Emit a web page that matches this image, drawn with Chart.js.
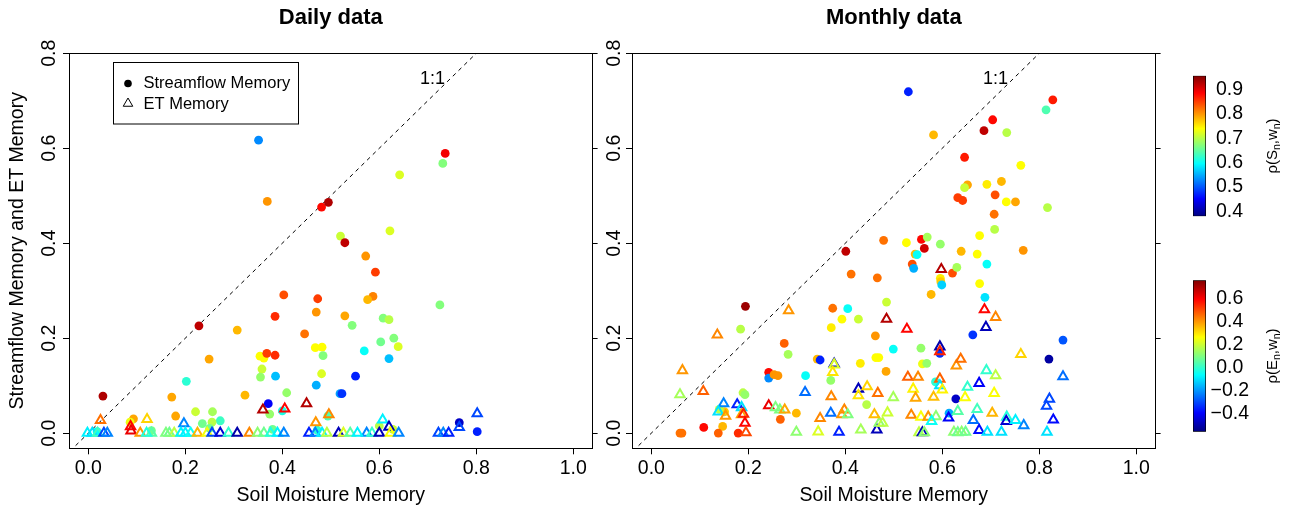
<!DOCTYPE html>
<html>
<head>
<meta charset="utf-8">
<script src="https://cdn.jsdelivr.net/npm/chart.js@4.4.0/dist/chart.umd.min.js"></script>
<style>
  html, body { margin: 0; padding: 0; background: #fff; }
  #wrap { position: relative; width: 1295px; height: 514px; overflow: hidden; }
  canvas { position: absolute; }
</style>
</head>
<body>
<div id="wrap">
  <canvas id="daily" width="600" height="514" style="left:0;top:0"></canvas>
  <canvas id="monthly" width="563" height="514" style="left:600px;top:0"></canvas>
  <canvas id="cbS" width="102" height="184" style="left:1193px;top:54px"></canvas>
  <canvas id="cbE" width="102" height="184" style="left:1193px;top:264px"></canvas>
</div>
<script>
// [soil moisture memory, streamflow memory, rho(S,w)]
const dailyStreamflow = [
  [0.351,0.617,0.53],[0.369,0.488,0.80],[0.481,0.476,0.88],[0.495,0.486,0.93],
  [0.736,0.589,0.89],[0.731,0.568,0.67],[0.642,0.544,0.72],[0.622,0.426,0.72],
  [0.520,0.415,0.71],[0.529,0.401,0.92],[0.572,0.373,0.80],[0.592,0.339,0.85],
  [0.403,0.291,0.84],[0.473,0.283,0.85],[0.587,0.288,0.81],[0.576,0.281,0.78],
  [0.470,0.255,0.80],[0.385,0.246,0.86],[0.529,0.247,0.79],[0.228,0.226,0.92],
  [0.307,0.217,0.78],[0.446,0.209,0.82],[0.544,0.227,0.67],[0.608,0.242,0.67],
  [0.620,0.239,0.70],[0.630,0.200,0.67],[0.603,0.192,0.66],[0.639,0.182,0.72],
  [0.725,0.270,0.67],[0.249,0.156,0.79],[0.354,0.162,0.74],[0.362,0.158,0.74],
  [0.368,0.168,0.85],[0.385,0.164,0.86],[0.468,0.180,0.74],[0.482,0.181,0.74],
  [0.484,0.163,0.67],[0.569,0.173,0.60],[0.620,0.157,0.56],[0.358,0.135,0.71],
  [0.355,0.118,0.68],[0.386,0.120,0.56],[0.481,0.125,0.72],[0.551,0.120,0.47],
  [0.202,0.109,0.62],[0.470,0.101,0.55],[0.409,0.085,0.68],[0.519,0.083,0.54],
  [0.523,0.083,0.48],[0.030,0.078,0.93],[0.172,0.076,0.79],[0.323,0.080,0.78],
  [0.371,0.062,0.45],[0.221,0.045,0.71],[0.256,0.045,0.69],[0.180,0.036,0.79],
  [0.374,0.040,0.68],[0.093,0.030,0.79],[0.765,0.022,0.42],[0.802,0.003,0.47],
  [0.272,0.026,0.63],[0.255,0.023,0.70],[0.086,0.023,0.73],[0.400,0.047,0.61],
  [0.494,0.036,0.64],[0.600,0.015,0.70],[0.018,0.003,0.60],[0.130,0.005,0.66],
  [0.235,0.020,0.66],[0.250,0.010,0.66],[0.380,0.008,0.66],[0.472,0.006,0.62],
  [0.628,0.008,0.71]
];

// [soil moisture memory, ET memory, rho(E,w)]
const dailyET = [
  [0.360,0.049,0.69],[0.405,0.051,0.59],[0.450,0.062,0.69],[0.025,0.027,0.45],
  [0.121,0.029,0.32],[0.197,0.020,-0.22],[0.469,0.022,0.40],[0.496,0.039,0.42],
  [0.607,0.028,-0.08],[0.802,0.041,-0.30],[0.765,0.012,-0.30],[0.620,0.013,-0.48],
  [0.087,0.014,0.59],[0.088,0.005,0.62],[-0.002,0.000,-0.08],[0.008,0.000,-0.10],
  [0.019,0.000,0.02],[0.032,0.000,-0.30],[0.039,0.000,-0.22],[0.107,0.000,0.40],
  [0.130,0.000,0.05],[0.120,0.000,-0.02],[0.167,0.000,0.08],[0.177,0.000,0.18],
  [0.191,0.000,-0.08],[0.200,0.000,-0.08],[0.211,0.000,-0.05],[0.225,0.000,0.36],
  [0.245,0.000,0.25],[0.255,0.000,-0.30],[0.272,0.000,-0.45],[0.289,0.000,0.00],
  [0.307,0.000,-0.50],[0.332,0.000,0.42],[0.349,0.000,0.12],[0.362,0.000,0.08],
  [0.376,0.000,-0.02],[0.390,0.000,-0.08],[0.403,0.000,-0.22],[0.455,0.000,-0.35],
  [0.468,0.000,-0.22],[0.482,0.000,-0.08],[0.492,0.000,0.18],[0.516,0.000,-0.48],
  [0.526,0.000,0.22],[0.574,0.000,-0.22],[0.585,0.000,0.00],[0.600,0.000,-0.48],
  [0.623,0.000,0.26],[0.640,0.000,-0.22],[0.722,0.000,-0.30],[0.732,0.000,-0.22],
  [0.743,0.000,-0.35],[0.160,0.000,0.10],[0.540,0.000,0.05],[0.555,0.000,-0.08]
];

const monthlyStreamflow = [
  [0.530,0.719,0.47],[0.828,0.702,0.87],[0.814,0.681,0.64],[0.704,0.660,0.88],
  [0.686,0.637,0.92],[0.733,0.633,0.70],[0.582,0.628,0.78],[0.646,0.581,0.87],
  [0.762,0.564,0.74],[0.722,0.530,0.78],[0.692,0.524,0.75],[0.652,0.523,0.79],
  [0.646,0.517,0.71],[0.632,0.496,0.85],[0.642,0.490,0.85],[0.709,0.502,0.84],
  [0.732,0.487,0.74],[0.751,0.487,0.79],[0.817,0.475,0.70],[0.707,0.461,0.82],
  [0.708,0.429,0.70],[0.677,0.416,0.74],[0.479,0.406,0.82],[0.526,0.401,0.74],
  [0.557,0.408,0.88],[0.569,0.413,0.69],[0.596,0.398,0.68],[0.563,0.389,0.91],
  [0.401,0.383,0.92],[0.639,0.383,0.78],[0.672,0.377,0.74],[0.767,0.385,0.80],
  [0.544,0.377,0.78],[0.548,0.376,0.60],[0.692,0.356,0.60],[0.538,0.356,0.84],
  [0.541,0.347,0.55],[0.621,0.337,0.84],[0.630,0.349,0.69],[0.412,0.335,0.82],
  [0.466,0.327,0.82],[0.596,0.326,0.75],[0.597,0.319,0.77],[0.677,0.315,0.74],
  [0.599,0.312,0.57],[0.577,0.292,0.78],[0.688,0.286,0.58],[0.194,0.267,0.94],
  [0.374,0.263,0.82],[0.405,0.262,0.60],[0.485,0.276,0.71],[0.393,0.240,0.74],
  [0.427,0.240,0.71],[0.184,0.219,0.70],[0.371,0.222,0.75],[0.462,0.205,0.80],
  [0.663,0.207,0.48],[0.849,0.196,0.50],[0.274,0.189,0.83],[0.499,0.177,0.60],
  [0.556,0.179,0.68],[0.595,0.168,0.48],[0.282,0.166,0.69],[0.342,0.156,0.78],
  [0.348,0.154,0.47],[0.431,0.147,0.75],[0.463,0.159,0.74],[0.469,0.159,0.74],
  [0.559,0.146,0.73],[0.568,0.147,0.68],[0.820,0.156,0.40],[0.242,0.128,0.88],
  [0.242,0.116,0.53],[0.253,0.123,0.80],[0.261,0.121,0.80],[0.318,0.121,0.60],
  [0.484,0.130,0.79],[0.189,0.085,0.70],[0.586,0.108,0.62],[0.628,0.072,0.42],
  [0.444,0.060,0.70],[0.151,0.045,0.77],[0.299,0.042,0.78],[0.266,0.029,0.83],
  [0.108,0.012,0.88],[0.147,0.014,0.78],[0.059,0.000,0.82],[0.063,0.000,0.82],
  [0.138,0.000,0.83],[0.179,0.000,0.86],[0.614,0.042,0.55],[0.370,0.111,0.68],
  [0.193,0.081,0.68],[0.140,0.050,0.70]
];

const monthlyET = [
  [0.598,0.345,0.69],[0.283,0.258,0.40],[0.485,0.240,0.69],[0.687,0.260,0.59],
  [0.710,0.244,0.42],[0.527,0.219,0.59],[0.690,0.223,-0.48],[0.136,0.207,0.42],
  [0.595,0.182,-0.50],[0.595,0.172,0.55],[0.377,0.146,-0.45],[0.377,0.144,0.22],
  [0.762,0.166,0.32],[0.629,0.142,0.40],[0.638,0.156,0.45],[0.064,0.132,0.40],
  [0.374,0.128,0.30],[0.529,0.118,0.47],[0.550,0.118,0.42],[0.595,0.114,0.47],
  [0.595,0.100,-0.10],[0.691,0.132,0.00],[0.710,0.121,0.18],[0.849,0.119,-0.25],
  [0.059,0.081,0.15],[0.107,0.088,0.47],[0.317,0.086,-0.25],[0.371,0.077,0.42],
  [0.427,0.093,-0.48],[0.445,0.098,0.32],[0.427,0.079,0.30],[0.467,0.084,0.45],
  [0.499,0.075,0.15],[0.540,0.093,0.28],[0.545,0.074,0.38],[0.582,0.076,0.35],
  [0.600,0.091,0.28],[0.676,0.105,-0.40],[0.652,0.097,0.00],[0.647,0.075,0.26],
  [0.707,0.084,0.26],[0.821,0.072,-0.30],[0.815,0.057,-0.30],[0.242,0.058,0.62],
  [0.256,0.054,0.10],[0.265,0.049,0.10],[0.275,0.049,0.38],[0.149,0.062,-0.22],
  [0.177,0.060,-0.35],[0.138,0.045,-0.10],[0.186,0.054,-0.10],[0.153,0.036,0.40],
  [0.186,0.039,0.38],[0.190,0.040,0.55],[0.193,0.021,0.59],[0.195,0.001,0.50],
  [0.299,0.002,0.12],[0.344,0.003,0.22],[0.348,0.031,0.42],[0.370,0.042,-0.25],
  [0.387,0.002,-0.35],[0.398,0.049,0.42],[0.393,0.039,0.40],[0.405,0.039,0.10],
  [0.432,0.007,0.15],[0.465,0.007,-0.48],[0.470,0.021,0.12],[0.460,0.039,0.35],
  [0.487,0.043,0.20],[0.477,0.021,0.18],[0.536,0.038,0.42],[0.556,0.034,0.26],
  [0.571,0.034,0.40],[0.587,0.035,0.12],[0.578,0.025,-0.05],[0.613,0.032,-0.40],
  [0.632,0.046,0.05],[0.672,0.050,0.02],[0.703,0.042,0.36],[0.664,0.027,-0.25],
  [0.676,0.006,-0.38],[0.693,0.002,-0.10],[0.733,0.034,-0.02],[0.732,0.025,-0.45],
  [0.751,0.027,-0.08],[0.722,0.002,-0.10],[0.768,0.016,-0.22],[0.829,0.028,-0.38],
  [0.816,0.002,-0.10],[0.552,0.001,0.18],[0.559,0.001,-0.48],[0.563,0.001,0.12],
  [0.624,0.002,0.12],[0.632,0.001,0.08],[0.640,0.002,0.12],[0.648,0.002,0.08]
];

const xTicks = [0, 0.2, 0.4, 0.6, 0.8, 1.0];
const yTicks = [0, 0.2, 0.4, 0.6, 0.8];
const xRange = [-0.04, 1.04];
const yRange = [-0.032, 0.8];
const oneToOne = [-0.05, 0.85];
const oneToOneLabel = [0.71, 0.746];
const sfRhoRange = [0.38, 0.956];
const etRhoRange = [-0.556, 0.758];
const sfRhoTicks = [0.4, 0.5, 0.6, 0.7, 0.8, 0.9];
const etRhoTicks = [-0.4, -0.2, 0.0, 0.2, 0.4, 0.6];

const FONT = '"Liberation Sans", Arial, Helvetica, sans-serif';
Chart.defaults.font.family = FONT;
Chart.defaults.color = '#000';

// matlab style jet palette, t in [0,1]
function jet(t) {
  t = Math.min(1, Math.max(0, t));
  const c = v => Math.round(255 * Math.min(1, Math.max(0, v)));
  const r = c(1.5 - Math.abs(4 * t - 3));
  const g = c(1.5 - Math.abs(4 * t - 2));
  const b = c(1.5 - Math.abs(4 * t - 1));
  return `rgb(${r},${g},${b})`;
}
const colorIn = (range) => (v) => jet((v - range[0]) / (range[1] - range[0]));

const fixedTicks = (vals) => (scale) => { scale.ticks = vals.map(v => ({ value: v })); };

// y tick labels rotated like R (las = 0)
const rotatedYLabels = {
  id: 'rotatedYLabels',
  afterDraw(chart, args, opts) {
    const { ctx } = chart;
    const y = chart.scales.y;
    ctx.save();
    ctx.font = '19.5px ' + FONT;
    ctx.fillStyle = '#000';
    ctx.textAlign = 'center';
    ctx.textBaseline = 'alphabetic';
    yTicks.forEach(v => {
      ctx.save();
      ctx.translate(opts.baseline, y.getPixelForValue(v));
      ctx.rotate(-Math.PI / 2);
      ctx.fillText(v.toFixed(1), 0, 0);
      ctx.restore();
    });
    ctx.restore();
  }
};

const annotations = {
  id: 'annotations',
  afterDatasetsDraw(chart, args, opts) {
    const { ctx, scales: { x, y } } = chart;
    ctx.save();
    ctx.fillStyle = '#000';
    ctx.font = '18px ' + FONT;
    ctx.textAlign = 'center';
    ctx.textBaseline = 'middle';
    ctx.fillText('1:1', x.getPixelForValue(oneToOneLabel[0]), y.getPixelForValue(oneToOneLabel[1]));
    if (opts.legend) {
      ctx.fillStyle = '#fff';
      ctx.fillRect(113.5, 62.5, 185, 61.5);
      ctx.strokeStyle = '#000';
      ctx.lineWidth = 1;
      ctx.strokeRect(113.5, 62.5, 185, 61.5);
      ctx.fillStyle = '#000';
      ctx.beginPath();
      ctx.arc(128, 83.5, 3.8, 0, Math.PI * 2);
      ctx.fill();
      const r = 5.5, cx = 128, cy = 103.5;
      ctx.beginPath();
      ctx.moveTo(cx, cy - r);
      ctx.lineTo(cx + r * Math.sqrt(3) / 2, cy + r / 2);
      ctx.lineTo(cx - r * Math.sqrt(3) / 2, cy + r / 2);
      ctx.closePath();
      ctx.stroke();
      ctx.font = '16.5px ' + FONT;
      ctx.textAlign = 'left';
      ctx.fillText('Streamflow Memory', 143.5, 83.8);
      ctx.fillText('ET Memory', 143.5, 104.5);
    }
    ctx.restore();
  }
};

function panel(id, title, sf, et, cfg) {
  const sfColor = colorIn(sfRhoRange);
  const etColor = colorIn(etRhoRange);
  const blackTicks = { display: true, drawOnChartArea: false, drawTicks: true, tickLength: 6, color: '#000', lineWidth: 1 };
  return new Chart(document.getElementById(id), {
    type: 'scatter',
    data: {
      datasets: [
        {
          label: 'ET Memory',
          data: et.map(p => ({ x: p[0], y: p[1] })),
          pointStyle: 'triangle',
          pointRadius: 5.4,
          pointBorderWidth: 2,
          pointBorderColor: et.map(p => etColor(p[2])),
          pointBackgroundColor: 'rgba(0,0,0,0)',
          order: 0
        },
        {
          label: 'Streamflow Memory',
          data: sf.map(p => ({ x: p[0], y: p[1] })),
          pointStyle: 'circle',
          pointRadius: 4.4,
          pointBorderWidth: 0,
          pointBackgroundColor: sf.map(p => sfColor(p[2])),
          order: 1
        },
        {
          label: '1:1',
          data: oneToOne.map(v => ({ x: v, y: v })),
          showLine: true,
          borderColor: '#000',
          borderWidth: 1,
          borderDash: [4, 4],
          pointRadius: 0,
          order: 2
        }
      ]
    },
    options: {
      responsive: false,
      animation: false,
      devicePixelRatio: 1,
      layout: { padding: 0 },
      events: [],
      plugins: {
        legend: { display: false },
        tooltip: { enabled: false },
        title: {
          display: true, text: title, fullSize: false, color: '#000',
          font: { size: 22, weight: 'bold' },
          padding: { top: 4.3, bottom: 22.6 }
        },
        rotatedYLabels: { baseline: cfg.labelBaseline },
        annotations: { legend: cfg.legend }
      },
      scales: {
        x: {
          type: 'linear', position: 'bottom', min: xRange[0], max: xRange[1], bounds: 'data',
          afterBuildTicks: fixedTicks(xTicks),
          afterFit: s => { s.height = 65.7; },
          ticks: { callback: v => v.toFixed(1), font: { size: 19.5 }, color: '#000', padding: 2.9, maxRotation: 0, autoSkip: false },
          grid: blackTicks,
          border: { display: true, color: '#000', width: 1 },
          title: { display: true, text: 'Soil Moisture Memory', font: { size: 19.5 }, color: '#000', padding: { top: 0, bottom: 6.2 } }
        },
        xTop: {
          type: 'linear', position: 'top', min: xRange[0], max: xRange[1], bounds: 'data',
          afterFit: s => { s.height = 0; },
          ticks: { display: false },
          grid: { display: false, drawTicks: false },
          border: { display: true, color: '#000', width: 1 }
        },
        y: {
          type: 'linear', position: 'left', min: yRange[0], max: yRange[1], bounds: 'data',
          afterBuildTicks: fixedTicks(yTicks),
          afterFit: s => { s.width = cfg.yWidth; },
          ticks: { display: false },
          grid: blackTicks,
          border: { display: true, color: '#000', width: 1 },
          title: { display: cfg.yTitle, text: 'Streamflow Memory and ET Memory', font: { size: 19.5 }, color: '#000', padding: { top: 6, bottom: 0 } }
        },
        yRight: {
          type: 'linear', position: 'right', min: yRange[0], max: yRange[1], bounds: 'data',
          afterBuildTicks: fixedTicks(yTicks),
          afterFit: s => { s.width = cfg.rightWidth; },
          ticks: { display: false },
          grid: Object.assign({}, blackTicks, { tickLength: 5 }),
          border: { display: true, color: '#000', width: 1 }
        }
      }
    },
    plugins: [rotatedYLabels, annotations]
  });
}

// colour bar title, rotated, with subscripts
const cbTitle = {
  id: 'cbTitle',
  afterDraw(chart, args, opts) {
    const { ctx, chartArea } = chart;
    const big = 15, small = 10.5;
    ctx.save();
    const widths = opts.parts.map(([txt, sub]) => {
      ctx.font = (sub ? small : big) + 'px ' + FONT;
      return ctx.measureText(txt).width;
    });
    const total = widths.reduce((a, b) => a + b, 0);
    ctx.translate(opts.baseline, (chartArea.top + chartArea.bottom) / 2);
    ctx.rotate(-Math.PI / 2);
    ctx.fillStyle = '#000';
    ctx.textAlign = 'left';
    ctx.textBaseline = 'alphabetic';
    let x = -total / 2;
    opts.parts.forEach(([txt, sub], i) => {
      ctx.font = (sub ? small : big) + 'px ' + FONT;
      ctx.fillText(txt, x, sub ? 3 : 0);
      x += widths[i];
    });
    ctx.restore();
  }
};

function colorbar(id, range, ticks, parts, pad, tickPad) {
  return new Chart(document.getElementById(id), {
    type: 'bar',
    data: {
      labels: [''],
      datasets: [{
        data: [range],
        backgroundColor: (c) => {
          const area = c.chart.chartArea;
          if (!area) return 'rgba(0,0,0,0)';
          const g = c.chart.ctx.createLinearGradient(0, area.bottom, 0, area.top);
          for (let i = 0; i <= 32; i++) g.addColorStop(i / 32, jet(i / 32));
          return g;
        },
        borderColor: '#000',
        borderWidth: 1,
        borderSkipped: false,
        barPercentage: 1,
        categoryPercentage: 1
      }]
    },
    options: {
      responsive: false,
      animation: false,
      devicePixelRatio: 1,
      events: [],
      layout: { padding: { top: pad[0], bottom: pad[1], left: 0, right: 0 } },
      plugins: {
        legend: { display: false },
        tooltip: { enabled: false },
        cbTitle: { parts: parts, baseline: 84 }
      },
      scales: {
        x: { display: false },
        y: {
          position: 'right', min: range[0], max: range[1], bounds: 'data',
          afterBuildTicks: fixedTicks(ticks),
          afterFit: s => { s.width = 89; },
          grid: { display: false, drawTicks: false },
          border: { display: false },
          ticks: {
            padding: tickPad, crossAlign: 'center', color: '#000', font: { size: 19.5 },
            callback: v => v.toFixed(1).replace('-', '\u2212')
          }
        }
      }
    },
    plugins: [cbTitle]
  });
}

panel('daily', 'Daily data', dailyStreamflow, dailyET,
  { yWidth: 69, rightWidth: 5, labelBaseline: 55, yTitle: true, legend: true });
panel('monthly', 'Monthly data', monthlyStreamflow, monthlyET,
  { yWidth: 32, rightWidth: 6, labelBaseline: 20, yTitle: false, legend: false });

colorbar('cbS', sfRhoRange, sfRhoTicks,
  [['\u03c1(S', false], ['n', true], [',w', false], ['n', true], [')', false]], [10, 10.3], 10);
colorbar('cbE', etRhoRange, etRhoTicks,
  [['\u03c1(E', false], ['n', true], [',w', false], ['n', true], [')', false]], [10.3, 10.3], 4.5);
</script>
</body>
</html>
